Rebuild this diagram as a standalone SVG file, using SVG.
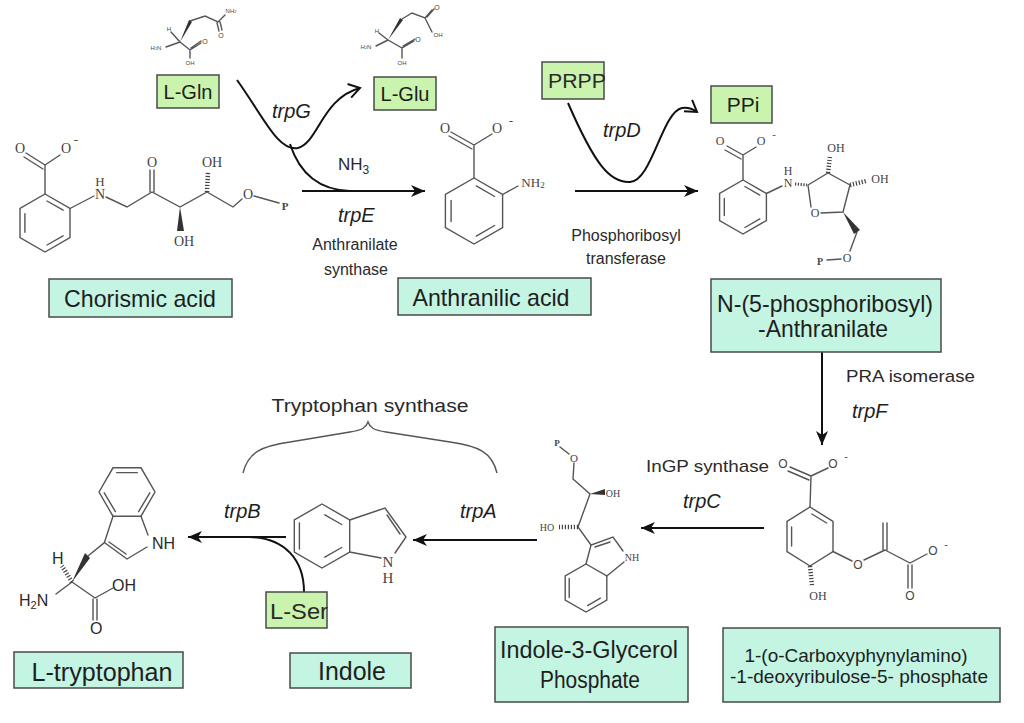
<svg xmlns="http://www.w3.org/2000/svg" width="1024" height="723" viewBox="0 0 1024 723">
<style>
.box{fill:#c4f4e2;stroke:#4a4a4a;stroke-width:1.5}
.gbox{fill:#caf4ae;stroke:#4a4a4a;stroke-width:1.5}
.lbl{font-family:"Liberation Sans",Arial,sans-serif;fill:#1e1e1e;text-anchor:middle}
.enz{font-family:"Liberation Sans",Arial,sans-serif;font-style:italic;font-size:20px;fill:#1e1e1e}
.sm{font-family:"Liberation Sans",Arial,sans-serif;fill:#2a2a2a}
.b{fill:none;stroke:#555;stroke-width:1.4;stroke-linecap:round}
.w{fill:#333;stroke:none}
.h{stroke:#444;stroke-width:4.5;stroke-dasharray:1.2,1.8}
.at{font-family:"Liberation Serif",serif;fill:#444;text-anchor:middle;dominant-baseline:central}
.as{font-family:"Liberation Sans",sans-serif;fill:#444;text-anchor:middle;dominant-baseline:central}
.c{fill:none;stroke:#111;stroke-width:2}
</style>
<defs>
<marker id="ah" markerUnits="userSpaceOnUse" markerWidth="16" markerHeight="12" refX="14" refY="6" orient="auto"><path d="M0,0 L14,6 L0,12 L4,6 z" fill="#111"/></marker>
<marker id="oh" markerUnits="userSpaceOnUse" markerWidth="16" markerHeight="16" refX="13" refY="8" orient="auto"><path d="M2,1 L13,8 L2,15" fill="none" stroke="#111" stroke-width="2"/></marker>
</defs>

<g id="connectors">
<path class="c" d="M302,191 L425,191" marker-end="url(#ah)"/>
<path class="c" d="M237,80 C263,116 278,152 298,148 C318,143 322,98 360,88" marker-end="url(#oh)"/>
<path class="c" d="M290,144 C300,175 320,190 350,191"/>
<path class="c" d="M575,191 L698,191" marker-end="url(#ah)"/>
<path class="c" d="M568,103 C595,165 610,183 630,182 C652,181 662,112 682,108 Q690,107 697,112" marker-end="url(#oh)"/>
<path class="c" d="M822,352 L822,445" marker-end="url(#ah)"/>
<path class="c" d="M764,528 L641,528" marker-end="url(#ah)"/>
<path class="c" d="M537,540 L413,540" marker-end="url(#ah)"/>
<path class="c" d="M286,537 L188,537" marker-end="url(#ah)"/>
<path class="c" d="M304,592 C304,560 285,538 250,537"/>
<path fill="none" stroke="#555" stroke-width="1.4" d="M243,473 C248,452 262,446 290,442 L350,432 C362,430 366,428 368,422 C370,428 374,430 386,432 L450,442 C478,446 492,452 497,473"/>
<text class="enz" x="272" y="118">trpG</text>
<text class="sm" x="338" y="170" font-size="17">NH<tspan font-size="12" dy="4">3</tspan></text>
<text class="enz" x="338" y="222">trpE</text>
<text class="sm" x="355" y="250" font-size="16" text-anchor="middle">Anthranilate</text>
<text class="sm" x="356" y="275" font-size="16" text-anchor="middle">synthase</text>
<text class="enz" x="603" y="137">trpD</text>
<text class="sm" x="626" y="241" font-size="16" text-anchor="middle">Phosphoribosyl</text>
<text class="sm" x="626" y="264" font-size="16" text-anchor="middle">transferase</text>
<text class="sm" x="846" y="382" font-size="17" textLength="129" lengthAdjust="spacingAndGlyphs">PRA isomerase</text>
<text class="enz" x="852" y="418">trpF</text>
<text class="sm" x="646" y="472" font-size="17" textLength="123" lengthAdjust="spacingAndGlyphs">InGP synthase</text>
<text class="enz" x="683" y="508">trpC</text>
<text class="enz" x="460" y="518">trpA</text>
<text class="enz" x="224" y="518">trpB</text>
<text class="sm" x="370" y="412" font-size="18" text-anchor="middle" textLength="197" lengthAdjust="spacingAndGlyphs">Tryptophan synthase</text>
</g>

<g id="chorismic-acid">
<rect class="box" x="49" y="279" width="183" height="38"/>
<text class="lbl" x="140" y="307" font-size="24" textLength="152" lengthAdjust="spacingAndGlyphs">Chorismic acid</text>
<path class="b" d="M45,194 L70,208.5 L70,237.5 L45,252 L20,237.5 L20,208.5 Z"/>
<path class="b" d="M24.9,213.7 L24.9,232.3 M63.1,235.8 L47,245 M47,201 L63.1,210.2"/>
<path class="b" d="M45,194 L45,165 M45,165 L26,153 M43,169 L24,157 M45,165 L60,155"/>
<path class="b" d="M70,208.5 L94,196 M106,197 L127,207 L152,192 L180,207 L207,192 L233,207 L242,199 M254,196 L279,203"/>
<path class="b" d="M150,192 L150,170 M154,192 L154,170"/>
<polygon class="w" points="180,207 177,231 184,231"/>
<line class="h" x1="207" y1="192" x2="208" y2="172"/>
<text class="at" x="20" y="148" font-size="14">O</text>
<text class="at" x="66" y="148" font-size="14">O</text>
<text class="at" x="76" y="139" font-size="13">-</text>
<text class="at" x="100" y="181" font-size="13">H</text>
<text class="at" x="100" y="194" font-size="14">N</text>
<text class="at" x="152" y="162" font-size="14">O</text>
<text class="at" x="184" y="241" font-size="14">OH</text>
<text class="at" x="212" y="162" font-size="14">OH</text>
<text class="at" x="248" y="194" font-size="14">O</text>
<text class="at" x="285" y="206" font-size="11" font-weight="bold">P</text>
</g>

<g id="l-gln">
<rect class="gbox" x="157" y="75" width="62" height="33"/>
<text class="lbl" x="188" y="99" font-size="20">L-Gln</text>
<path class="b" stroke-width="1" d="M180,42 L166,47 M180,42 L171,32 M190,21 L205,16 L218,22 L225,15 M217,23 L219,31 M220,22 L222,30 M180,42 L190,50 L201,43 M191,48 L201,41 M190,50 L190,58"/>
<polygon class="w" points="180,42 189,20 192,22"/>
<text class="as" x="156" y="48" font-size="6">H<tspan font-size="4">2</tspan>N</text>
<text class="as" x="169" y="29" font-size="6">H</text>
<text class="as" x="231" y="11" font-size="6">NH<tspan font-size="4">2</tspan></text>
<text class="as" x="221" y="35" font-size="7">O</text>
<text class="as" x="205" y="41" font-size="7">O</text>
<text class="as" x="190" y="63" font-size="6">OH</text>
</g>

<g id="l-glu">
<rect class="gbox" x="374" y="77" width="62" height="33"/>
<text class="lbl" x="405" y="101" font-size="20">L-Glu</text>
<path class="b" stroke-width="1" d="M388,40 L376,46 M388,40 L379,33 M402,19 L412,13 L425,18 L432,10 M427,17 L434,9 M425,18 L432,32 M388,40 L402,48 L414,41 M403,46 L415,39 M402,48 L402,58"/>
<polygon class="w" points="388,40 400,18 403,20"/>
<text class="as" x="366" y="47" font-size="6">H<tspan font-size="4">2</tspan>N</text>
<text class="as" x="377" y="31" font-size="6">H</text>
<text class="as" x="437" y="7" font-size="7">O</text>
<text class="as" x="438" y="35" font-size="6">OH</text>
<text class="as" x="418" y="39" font-size="7">O</text>
<text class="as" x="402" y="63" font-size="6">OH</text>
</g>

<g id="anthranilic-acid">
<rect class="box" x="398" y="278" width="193" height="37"/>
<text class="lbl" x="491" y="306" font-size="24" textLength="157" lengthAdjust="spacingAndGlyphs">Anthranilic acid</text>
<path class="b" d="M474,178 L502.6,194.5 L502.6,227.5 L474,244 L445.4,227.5 L445.4,194.5 Z"/>
<path class="b" d="M451.1,200.4 L451.1,221.6 M494.6,225.5 L476.3,236.1 M476.3,185.9 L494.6,196.5"/>
<path class="b" d="M474,178 L474,145 M474,145 L451,132 M472,149 L449,136 M474,145 L492,134 M502.6,194.5 L518,186"/>
<text class="at" x="445" y="128" font-size="14">O</text>
<text class="at" x="497" y="128" font-size="14">O</text>
<text class="at" x="511" y="120" font-size="13">-</text>
<text class="at" x="533" y="182" font-size="13">NH<tspan font-size="9" dy="3">2</tspan></text>
</g>

<g id="prpp">
<rect class="gbox" x="542" y="62" width="62" height="37"/>
<text class="sm" x="548" y="88" font-size="20" textLength="58" lengthAdjust="spacingAndGlyphs">PRPP</text>
</g>

<g id="ppi">
<rect class="gbox" x="711" y="86" width="61" height="37"/>
<text class="lbl" x="743" y="112" font-size="21">PPi</text>
</g>

<g id="pr-anthranilate">
<rect class="box" x="711" y="279" width="230" height="73"/>
<text class="lbl" x="825" y="312" font-size="24" textLength="216" lengthAdjust="spacingAndGlyphs">N-(5-phosphoribosyl)</text>
<text class="lbl" x="823" y="337" font-size="24" textLength="130" lengthAdjust="spacingAndGlyphs">-Anthranilate</text>
<path class="b" d="M743,180 L766.4,193.5 L766.4,220.5 L743,234 L719.6,220.5 L719.6,193.5 Z"/>
<path class="b" d="M724.3,198.4 L724.3,215.6 M759.8,218.9 L744.9,227.5 M744.9,186.5 L759.8,195.1"/>
<path class="b" d="M743,180 L743,155 M743,155 L727,146 M741,159 L725,150 M743,155 L756,147 M766.4,193.5 L782,186"/>
<line x1="795" y1="184" x2="807" y2="185" stroke="#444" stroke-width="3" stroke-dasharray="1.2,1.6"/>
<path class="b" d="M808,185 L828,173 L850,185 L843,212 L821,213 M811,207 L808,185 M857,232 L850,251 M841,259 L827,260"/>
<line class="h" x1="828" y1="173" x2="830" y2="156"/>
<line class="h" x1="850" y1="185" x2="866" y2="181"/>
<polygon class="w" points="843,212 854,234 860,230"/>
<text class="at" x="720" y="141" font-size="12">O</text>
<text class="at" x="761" y="141" font-size="12">O</text>
<text class="at" x="774" y="134" font-size="11">-</text>
<text class="at" x="788" y="171" font-size="12">H</text>
<text class="at" x="788" y="183" font-size="12">N</text>
<text class="at" x="815" y="213" font-size="12">O</text>
<text class="at" x="836" y="148" font-size="12">OH</text>
<text class="at" x="880" y="179" font-size="12">OH</text>
<text class="at" x="847" y="258" font-size="12">O</text>
<text class="at" x="820" y="261" font-size="10" font-weight="bold">P</text>
</g>

<g id="cdrp">
<rect class="box" x="723" y="628" width="277" height="74"/>
<text class="lbl" x="856" y="662" font-size="19" textLength="223" lengthAdjust="spacingAndGlyphs">1-(o-Carboxyphynylamino)</text>
<text class="lbl" x="859" y="683" font-size="19" textLength="258" lengthAdjust="spacingAndGlyphs">-1-deoxyribulose-5- phosphate</text>
<path class="b" d="M810,507 L833,521.5 L833,551.5 L810,566 L787,551.5 L787,521.5 Z"/>
<path class="b" d="M811.8,514 L826.6,523 M791.6,526.9 L791.6,546.1"/>
<path class="b" d="M810,507 L811,476 M811,476 L790,467 M809,480 L788,471 M811,476 L828,468 M833,551.5 L852,561 M864,560 L885,550 M883,550 L883,523 M887,550 L887,523 M885,550 L910,563 L927,554 M908,565 L908,588 M912,565 L912,588"/>
<line class="h" x1="810" y1="566" x2="812" y2="586"/>
<text class="as" x="783" y="464" font-size="12">O</text>
<text class="as" x="833" y="464" font-size="12">O</text>
<text class="as" x="846" y="456" font-size="11">-</text>
<text class="as" x="858" y="565" font-size="12">O</text>
<text class="as" x="910" y="596" font-size="12">O</text>
<text class="as" x="933" y="551" font-size="12">O</text>
<text class="as" x="946" y="544" font-size="11">-</text>
<text class="at" x="818" y="596" font-size="12">OH</text>
</g>

<g id="indole-3-glycerol-phosphate">
<rect class="box" x="495" y="627" width="193" height="75"/>
<text class="lbl" x="589" y="658" font-size="23" textLength="178" lengthAdjust="spacingAndGlyphs">Indole-3-Glycerol</text>
<text class="lbl" x="590" y="688" font-size="23" textLength="100" lengthAdjust="spacingAndGlyphs">Phosphate</text>
<path class="b" d="M586,564 L606.8,576 L606.8,600 L586,612 L565.2,600 L565.2,576 Z"/>
<path class="b" d="M569.2,578.5 L569.2,597.5 M600.4,598.2 L587.6,605.6"/>
<path class="b" d="M586,564 L591,545 L613,537 L623,551 M624,562 L606.8,576 M595,547 L610,542"/>
<path class="b" d="M560,447 L569,454 M574,463 L573,479 L590,494 L578,527 L591,545"/>
<polygon class="w" points="590,494 605,489 605,495"/>
<line class="h" x1="578" y1="527" x2="559" y2="527" stroke-width="3.5"/>
<text class="at" x="557" y="443" font-size="9" font-weight="bold">P</text>
<text class="at" x="574" y="458" font-size="11">O</text>
<text class="at" x="613" y="493" font-size="10">OH</text>
<text class="at" x="547" y="527" font-size="10">HO</text>
<text class="at" x="632" y="557" font-size="10">NH</text>
</g>

<g id="indole">
<rect class="box" x="290" y="653" width="121" height="35"/>
<text class="lbl" x="352" y="680" font-size="25" textLength="68" lengthAdjust="spacingAndGlyphs">Indole</text>
<path class="b" d="M322,504 L349.7,520 L349.7,552 L322,568 L294.3,552 L294.3,520 Z"/>
<path class="b" d="M299.4,523 L299.4,549 M341.7,547.5 L324.8,557.2 M324.8,514.8 L341.7,524.5"/>
<path class="b" d="M349.7,520 L385,508 L406,537 L395,553 M381,558 L349.7,552 M387,515 L400,534"/>
<text class="at" x="388" y="562" font-size="15">N</text>
<text class="at" x="388" y="578" font-size="15">H</text>
</g>

<g id="l-ser">
<rect class="gbox" x="266" y="592" width="61" height="36"/>
<text class="sm" x="270" y="619" font-size="22" textLength="58" lengthAdjust="spacingAndGlyphs">L-Ser</text>
</g>

<g id="l-tryptophan">
<rect class="box" x="14" y="652" width="169" height="36"/>
<text class="lbl" x="102" y="681" font-size="25" textLength="141" lengthAdjust="spacingAndGlyphs">L-tryptophan</text>
<path class="b" d="M99,492 L113,467.8 L141,467.8 L155,492 L141,516.2 L113,516.2 Z"/>
<path class="b" d="M116.6,472.6 L137.4,472.6 M149.8,492.8 L138.6,511.6 M104.2,492.8 L115.4,511.6"/>
<path class="b" d="M113,516.2 L104.4,542.6 L127,559 L147,547 M141,516.2 L148,535 M109,542 L126,554 M104.4,542.6 L88,556 M72,582 L56,594 M72,582 L95,598 L113,588 M93,599 L93,620 M97,599 L97,620"/>
<polygon class="w" points="72,582 85,553 90,558"/>
<line class="h" x1="72" y1="582" x2="62" y2="566" stroke-width="3.5"/>
<text class="sm" x="152" y="549" font-size="16">NH</text>
<text class="sm" x="52" y="564" font-size="16">H</text>
<text class="sm" x="19" y="606" font-size="16">H<tspan font-size="11" dy="3">2</tspan><tspan dy="-3">N</tspan></text>
<text class="sm" x="112" y="591" font-size="16">OH</text>
<text class="sm" x="90" y="634" font-size="16">O</text>
</g>
</svg>
